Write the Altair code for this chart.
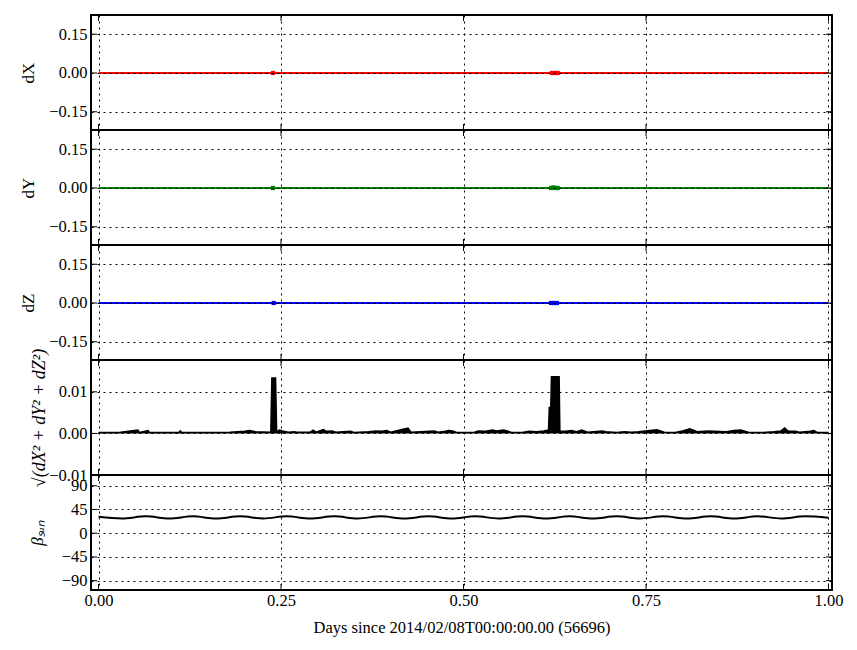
import altair as alt
import pandas as pd

FONT = "Liberation Serif"
W, H = 741, 115

# ---- data ----
x_ticks = [0.0, 0.25, 0.5, 0.75, 1.0]
dev_ticks = [-0.15, 0.0, 0.15]
tot_ticks = [-0.01, 0.0, 0.01]
beta_ticks = [-90, -45, 0, 45, 90]

line_x = [0.0, 0.24, 0.62, 0.63, 1.0]
dx_y = [0.0, 0.0, 0.0, 0.0, 0.0]
dy_y = [0.0, 0.0, 0.0, 0.0, 0.0]
dz_y = [0.0, 0.0, 0.0, 0.0, 0.0]

dx_mark_x = [0.239, 0.621, 0.625, 0.629]
dx_mark_y = [0.0, 0.0, 0.0, 0.0]
dy_mark_x = [0.239, 0.620, 0.623, 0.626, 0.629]
dy_mark_y = [0.0, 0.0, 0.002, 0.0, 0.0]
dz_mark_x = [0.240, 0.620, 0.624, 0.628]
dz_mark_y = [0.0, 0.0, 0.0, 0.0]

tot_x = [0.0, 0.02, 0.03, 0.054, 0.056, 0.068, 0.07, 0.11, 0.112, 0.114, 0.15, 0.18,
         0.2, 0.207, 0.215, 0.236, 0.2375, 0.2425, 0.244, 0.248, 0.252, 0.26, 0.268,
         0.272, 0.29, 0.294, 0.298, 0.308, 0.312, 0.32, 0.325, 0.345, 0.35, 0.37,
         0.38, 0.388, 0.395, 0.40, 0.424, 0.428, 0.46, 0.465, 0.475, 0.48, 0.485,
         0.49, 0.50, 0.515, 0.52, 0.53, 0.54, 0.545, 0.555, 0.565, 0.58, 0.59, 0.60,
         0.61, 0.6165, 0.6175, 0.6195, 0.6205, 0.631, 0.632, 0.64, 0.648, 0.655,
         0.662, 0.67, 0.69, 0.695, 0.71, 0.72, 0.73, 0.74, 0.755, 0.765, 0.775,
         0.79, 0.80, 0.81, 0.815, 0.82, 0.835, 0.86, 0.87, 0.88, 0.89, 0.91, 0.925,
         0.935, 0.94, 0.945, 0.955, 0.96, 0.975, 0.98, 0.985, 1.0]
tot_y = [0.0002, 0.0002, 0.0003, 0.0008, 0.0002, 0.0007, 0.0002, 0.0002, 0.0006, 0.0002,
         0.0002, 0.0003, 0.0005, 0.0007, 0.0004, 0.0003, 0.0133, 0.0133, 0.0004, 0.0008,
         0.0006, 0.0003, 0.0004, 0.0003, 0.0003, 0.0008, 0.0003, 0.0009, 0.0005, 0.0006,
         0.0003, 0.0005, 0.0002, 0.0004, 0.0006, 0.0005, 0.0007, 0.0003, 0.0013, 0.0003,
         0.0006, 0.0003, 0.0005, 0.0007, 0.0006, 0.0003, 0.0002, 0.0003, 0.0006, 0.0005,
         0.0008, 0.0006, 0.0008, 0.0003, 0.0002, 0.0005, 0.0004, 0.0006, 0.0008, 0.0062,
         0.0062, 0.0136, 0.0136, 0.0006, 0.0005, 0.0007, 0.0004, 0.0008, 0.0003, 0.0006,
         0.0004, 0.0002, 0.0004, 0.0003, 0.0004, 0.0007, 0.0009, 0.0003, 0.0002, 0.0006,
         0.0011, 0.0008, 0.0004, 0.0006, 0.0004, 0.0007, 0.0008, 0.0003, 0.0002, 0.0004,
         0.0006, 0.0013, 0.0005, 0.0005, 0.0003, 0.0005, 0.0007, 0.0002, 0.0002]

beta_x = [0.0, 0.032, 0.065, 0.097, 0.129, 0.161, 0.194, 0.226, 0.258, 0.290, 0.323,
          0.355, 0.387, 0.419, 0.452, 0.484, 0.516, 0.548, 0.581, 0.613, 0.645, 0.677,
          0.710, 0.742, 0.774, 0.806, 0.839, 0.871, 0.903, 0.935, 0.968, 1.0]
beta_y = [31.0, 28.0, 32.0, 27.9, 32.1, 27.9, 32.0, 28.0, 32.1, 27.9, 32.0, 28.0,
          32.1, 27.9, 32.0, 27.9, 32.1, 28.0, 32.0, 27.9, 32.1, 27.9, 32.0, 28.0,
          32.1, 27.9, 32.0, 27.9, 32.1, 28.0, 32.0, 29.5]

XDOM = [-0.0103, 1.0048]
DEV_DOM = [-0.2206, 0.2244]
TOT_DOM = [-0.01, 0.01765]
BETA_DOM = [-107.7, 110.4]

AX_COMMON = dict(labelFont=FONT, titleFont=FONT, labelFontSize=16.5, labelColor="black",
                 titleColor="black", titleFontWeight="normal", gridColor="black",
                 gridDash=[2, 4], gridWidth=1, gridOpacity=1, ticks=False, domain=False,
                 zindex=1)


def make_axes(bottom, yvals, title, fmt, tsize, tpad, italic=False):
    if bottom:
        xa = alt.Axis(values=x_ticks, format=".2f", grid=True, labels=True,
                      title="Days since 2014/02/08T00:00:00.00 (56696)",
                      titleFontSize=16.5, titlePadding=11, labelPadding=2, **AX_COMMON)
    else:
        xa = alt.Axis(values=x_ticks, grid=True, labels=False, title=None, **AX_COMMON)
    kw = dict(values=yvals, format=fmt, grid=True, title=title, titleFontSize=tsize,
              titlePadding=tpad, minExtent=42, maxExtent=42, labelOverlap=False,
              labelPadding=4, **AX_COMMON)
    if italic:
        kw["titleFontStyle"] = "italic"
    ya = alt.Axis(**kw)
    return xa, ya


def panel(layers_fn, ydom, yvals, bottom, title, fmt, tsize, tpad, italic=False):
    xa, ya = make_axes(bottom, yvals, title, fmt, tsize, tpad, italic)
    xsc = alt.Scale(domain=XDOM, nice=False, zero=False)
    ysc = alt.Scale(domain=ydom, nice=False, zero=False)
    X = lambda: alt.X("x:Q", scale=xsc, axis=xa)
    Y = lambda: alt.Y("y:Q", scale=ysc, axis=ya)
    data_layers = layers_fn(X, Y)
    xs = pd.DataFrame({"x": x_ticks})
    ys = pd.DataFrame({"y": yvals})
    top = alt.Chart(xs).mark_rule(color="black", strokeWidth=1).encode(
        x=X(), y=alt.value(0), y2=alt.value(6))
    bot = alt.Chart(xs).mark_rule(color="black", strokeWidth=1).encode(
        x=X(), y=alt.value(H), y2=alt.value(H - 6))
    left = alt.Chart(ys).mark_rule(color="black", strokeWidth=1).encode(
        y=Y(), x=alt.value(0), x2=alt.value(6))
    right = alt.Chart(ys).mark_rule(color="black", strokeWidth=1).encode(
        y=Y(), x=alt.value(W), x2=alt.value(W - 6))
    return alt.layer(*data_layers, top, bot, left, right).properties(width=W, height=H)


def dev_layers(ly, mx, my, color):
    def fn(X, Y):
        df = pd.DataFrame({"x": line_x, "y": ly})
        dm = pd.DataFrame({"x": mx, "y": my})
        line = alt.Chart(df).mark_line(color=color, strokeWidth=2, clip=True).encode(x=X(), y=Y())
        pts = alt.Chart(dm).mark_square(color=color, size=18, opacity=1, clip=True).encode(x=X(), y=Y())
        return [line, pts]
    return fn


p1 = panel(dev_layers(dx_y, dx_mark_x, dx_mark_y, "#ff0000"), DEV_DOM, dev_ticks, False, "dX", ".2f", 17, 12)
p2 = panel(dev_layers(dy_y, dy_mark_x, dy_mark_y, "#008000"), DEV_DOM, dev_ticks, False, "dY", ".2f", 17, 12)
p3 = panel(dev_layers(dz_y, dz_mark_x, dz_mark_y, "#0000ff"), DEV_DOM, dev_ticks, False, "dZ", ".2f", 17, 12)


def tot_layers(X, Y):
    tdf = pd.DataFrame({"x": tot_x, "y": tot_y})
    a = alt.Chart(tdf).mark_area(color="black", opacity=1, clip=True).encode(x=X(), y=Y())
    l = alt.Chart(tdf).mark_line(color="black", strokeWidth=1.5, clip=True).encode(x=X(), y=Y())
    return [a, l]


p4 = panel(tot_layers, TOT_DOM, tot_ticks, False, "√(dX² + dY² + dZ²)", ".2f", 18, 1, italic=True)


def beta_layers(X, Y):
    bdf = pd.DataFrame({"x": beta_x, "y": beta_y})
    return [alt.Chart(bdf).mark_line(color="black", strokeWidth=2, interpolate="monotone",
                                     clip=True).encode(x=X(), y=Y())]


p5 = panel(beta_layers, BETA_DOM, beta_ticks, True, "βₛᵤₙ", "d", 17, 3, italic=True)

chart = alt.vconcat(p1, p2, p3, p4, p5, spacing=0, bounds="flush").properties(
    padding={"top": 5, "left": 10, "right": 5, "bottom": 5}
).configure_view(stroke="black", strokeWidth=2).configure_axis(
    labelFont=FONT, titleFont=FONT, labelFontSize=16.5, titleFontSize=16,
    labelColor="black", titleColor="black", titleFontWeight="normal",
    gridColor="black", gridDash=[2, 4], gridWidth=1, gridOpacity=1,
    ticks=False, domain=False, zindex=1, labelPadding=4
).configure_text(font=FONT)

chart.save("out.html", embed_options={"renderer": "svg", "actions": False})
